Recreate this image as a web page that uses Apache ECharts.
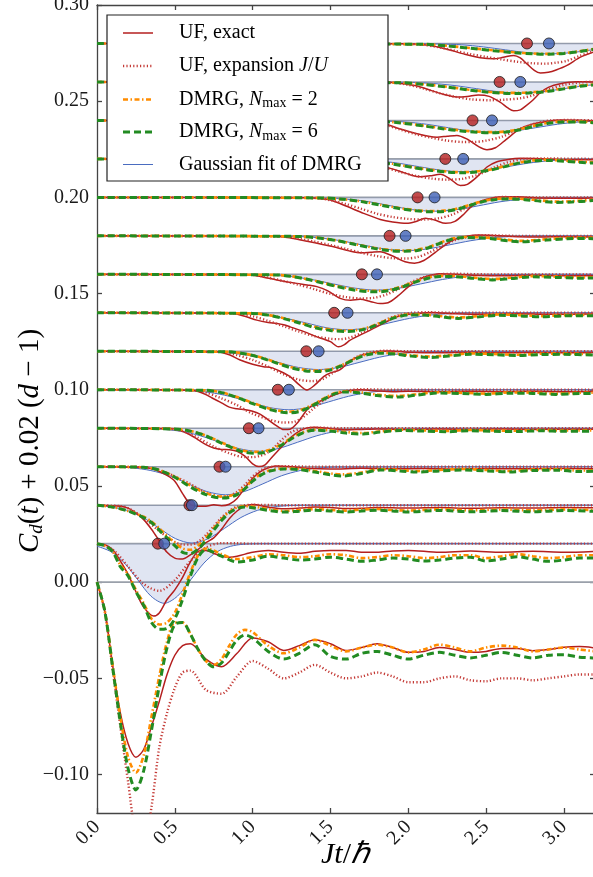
<!DOCTYPE html>
<html><head><meta charset="utf-8">
<script src="https://cdn.jsdelivr.net/npm/echarts@6/dist/echarts.min.js"></script>
<style>html,body{margin:0;padding:0;background:#fff}#c{width:593px;height:877px}</style>
</head><body><div id="c"></div>
<script>
// vertical offsets 0.02(d-1), d = 1..15
const levelOffsets = [0,0.02,0.04,0.06,0.08,0.10,0.12,0.14,0.16,0.18,0.20,0.22,0.24,0.26,0.28];
// marker times for d = 2..15
const exactMarkerT = [0.391,0.594,0.787,0.976,1.162,1.345,1.524,1.702,1.880,2.060,2.238,2.413,2.587,2.763];
const gaussMarkerT = [0.432,0.61,0.826,1.038,1.233,1.424,1.610,1.799,1.983,2.169,2.353,2.538,2.720,2.904];
const yTicks = [-0.10,-0.05,0,0.05,0.10,0.15,0.20,0.25,0.30];
const xTicks = [0,0.5,1,1.5,2,2.5,3];

// C_d(t) as [t, C] pairs, one list per d = 1..15
const ufExact = [
 [[0,0],[0.05,-0.015],[0.1,-0.043],[0.15,-0.068],[0.2,-0.084],[0.25,-0.091],[0.3,-0.087],[0.35,-0.075],[0.4,-0.062],[0.45,-0.048],[0.5,-0.038],[0.55,-0.033],[0.6,-0.032],[0.7,-0.040],[0.8,-0.044],[0.9,-0.037],[1.0,-0.029],[1.1,-0.031],[1.2,-0.0355],[1.3,-0.033],[1.4,-0.030],[1.5,-0.032],[1.6,-0.0355],[1.7,-0.034],[1.8,-0.032],[1.9,-0.034],[2.0,-0.0365],[2.1,-0.036],[2.2,-0.034],[2.3,-0.035],[2.4,-0.0365],[2.5,-0.036],[2.6,-0.0345],[2.7,-0.0345],[2.8,-0.0356],[2.9,-0.035],[3.0,-0.0338],[3.1,-0.0335],[3.2,-0.0342]],
 [[0,0],[0.05,-0.0005],[0.1,-0.003],[0.15,-0.009],[0.2,-0.016],[0.25,-0.025],[0.3,-0.033],[0.363,-0.0376],[0.4,-0.036],[0.45,-0.029],[0.5,-0.024],[0.55,-0.0175],[0.6,-0.0095],[0.65,-0.004],[0.7,-0.0035],[0.75,-0.005],[0.8,-0.0065],[0.85,-0.007],[0.9,-0.0065],[1.0,-0.0045],[1.1,-0.0035],[1.2,-0.0045],[1.3,-0.005],[1.4,-0.004],[1.5,-0.0035],[1.6,-0.0035],[1.7,-0.0045],[1.8,-0.0045],[1.9,-0.0038],[2.0,-0.0035],[2.2,-0.0045],[2.4,-0.0038],[2.6,-0.0045],[2.8,-0.004],[3.0,-0.0045],[3.2,-0.004]],
 [[0,0],[0.15,-0.0005],[0.2,-0.0015],[0.25,-0.004],[0.3,-0.0075],[0.35,-0.0125],[0.4,-0.0185],[0.45,-0.0245],[0.5,-0.0275],[0.55,-0.028],[0.6,-0.0258],[0.65,-0.023],[0.7,-0.0195],[0.75,-0.017],[0.8,-0.0125],[0.85,-0.007],[0.9,-0.003],[0.95,-0.0005],[1.0,0.0003],[1.1,-0.001],[1.2,-0.0018],[1.3,-0.0015],[1.4,-0.001],[1.5,-0.0012],[1.6,-0.0017],[1.7,-0.0016],[1.8,-0.0012],[2.0,-0.0015],[2.2,-0.0012],[2.4,-0.0016],[2.6,-0.0013],[2.8,-0.0015],[3.0,-0.0012],[3.2,-0.0014]],
 [[0,0],[0.3,-0.0003],[0.35,-0.001],[0.4,-0.0025],[0.45,-0.0045],[0.5,-0.0075],[0.55,-0.014],[0.6,-0.0195],[0.65,-0.0205],[0.7,-0.0205],[0.75,-0.0198],[0.8,-0.0203],[0.85,-0.0195],[0.9,-0.0165],[0.95,-0.011],[1.0,-0.006],[1.05,-0.0025],[1.1,-0.0005],[1.15,0.0004],[1.25,0],[1.35,-0.0008],[1.5,-0.0012],[1.7,-0.0008],[1.9,-0.0011],[2.1,-0.0009],[2.3,-0.0012],[2.5,-0.0009],[2.7,-0.0011],[2.9,-0.0009],[3.2,-0.001]],
 [[0,0],[0.45,-0.0002],[0.52,-0.0008],[0.6,-0.0035],[0.65,-0.006],[0.7,-0.0085],[0.75,-0.0103],[0.8,-0.011],[0.85,-0.0112],[0.9,-0.012],[0.95,-0.0145],[1.0,-0.0185],[1.04,-0.0199],[1.08,-0.019],[1.12,-0.0155],[1.19,-0.0094],[1.25,-0.0045],[1.3,-0.0015],[1.35,0.0002],[1.4,0.0005],[1.5,-0.0002],[1.6,-0.0008],[1.7,-0.0006],[1.8,-0.0004],[2.0,-0.0006],[2.2,-0.0004],[2.4,-0.0006],[2.6,-0.0004],[2.8,-0.0006],[3.0,-0.0005],[3.2,-0.0005]],
 [[0,0],[0.6,-0.0002],[0.65,-0.0009],[0.7,-0.0025],[0.74,-0.0043],[0.8,-0.0068],[0.85,-0.009],[0.9,-0.0099],[0.95,-0.0104],[1.0,-0.0112],[1.05,-0.0128],[1.1,-0.0156],[1.15,-0.0185],[1.2,-0.0207],[1.24,-0.0205],[1.29,-0.017],[1.35,-0.0104],[1.4,-0.0072],[1.456,-0.0052],[1.5,-0.0035],[1.56,-0.0017],[1.62,-0.0005],[1.7,0],[1.8,-0.0006],[1.9,-0.001],[2.0,-0.0008],[2.2,-0.001],[2.4,-0.0008],[2.6,-0.001],[2.8,-0.0008],[3.0,-0.001],[3.2,-0.0009]],
 [[0,0],[0.77,-0.0002],[0.85,-0.0018],[0.92,-0.0045],[1.0,-0.0067],[1.07,-0.008],[1.12,-0.0085],[1.18,-0.0105],[1.241,-0.0132],[1.3,-0.0175],[1.349,-0.0201],[1.4,-0.0175],[1.456,-0.0132],[1.5,-0.0112],[1.56,-0.0097],[1.627,-0.005],[1.7,-0.002],[1.756,-0.001],[1.82,0],[1.884,0.0002],[2.0,-0.0005],[2.2,-0.0008],[2.4,-0.0005],[2.6,-0.0008],[2.8,-0.0006],[3.0,-0.0008],[3.2,-0.0006]],
 [[0,0],[0.86,-0.0002],[0.95,-0.0018],[1.027,-0.0038],[1.1,-0.005],[1.156,-0.0055],[1.2,-0.0062],[1.241,-0.0073],[1.33,-0.0098],[1.413,-0.0125],[1.45,-0.0135],[1.5,-0.015],[1.552,-0.0177],[1.59,-0.0165],[1.627,-0.0142],[1.713,-0.0107],[1.78,-0.008],[1.84,-0.0055],[1.927,-0.0021],[2.0,-0.0008],[2.056,-0.0003],[2.15,0.0002],[2.3,-0.0005],[2.5,-0.0008],[2.7,-0.0005],[2.9,-0.0008],[3.2,-0.0006]],
 [[0,0],[0.985,-0.0002],[1.07,-0.0015],[1.156,-0.0029],[1.284,-0.0047],[1.35,-0.0055],[1.413,-0.0064],[1.48,-0.0085],[1.563,-0.0125],[1.63,-0.0135],[1.69,-0.013],[1.76,-0.0142],[1.82,-0.0152],[1.87,-0.0148],[1.93,-0.0115],[2.0,-0.0065],[2.06,-0.003],[2.12,-0.001],[2.2,0.0003],[2.3,0.0001],[2.45,-0.0006],[2.6,-0.0008],[2.8,-0.0005],[3.0,-0.0008],[3.2,-0.0006]],
 [[0,0],[1.15,-0.0002],[1.25,-0.0012],[1.35,-0.0028],[1.45,-0.0045],[1.55,-0.0063],[1.62,-0.0078],[1.7,-0.0088],[1.76,-0.0085],[1.82,-0.0082],[1.9,-0.0105],[1.98,-0.0135],[2.04,-0.0142],[2.1,-0.0128],[2.17,-0.0088],[2.24,-0.0045],[2.3,-0.0018],[2.37,-0.0003],[2.45,0.0004],[2.55,0.0002],[2.7,-0.0004],[2.85,-0.0006],[3.0,-0.0004],[3.2,-0.0006]],
 [[0,0],[1.35,-0.0002],[1.45,-0.0008],[1.5,-0.0014],[1.6,-0.0045],[1.713,-0.0083],[1.82,-0.0115],[1.9,-0.0128],[1.99,-0.0135],[2.05,-0.0125],[2.11,-0.0108],[2.17,-0.0118],[2.24,-0.0135],[2.3,-0.0125],[2.36,-0.0085],[2.4,-0.0052],[2.45,-0.0025],[2.505,-0.001],[2.58,0.0002],[2.7,0.0003],[2.85,-0.0003],[3.0,-0.0005],[3.2,-0.0003]],
 [[0,0],[1.5,-0.0002],[1.6,-0.0008],[1.7,-0.0018],[1.82,-0.0035],[1.95,-0.0065],[2.02,-0.0085],[2.077,-0.0093],[2.14,-0.0088],[2.206,-0.008],[2.27,-0.0105],[2.334,-0.0138],[2.38,-0.0132],[2.44,-0.0095],[2.506,-0.0042],[2.57,-0.0015],[2.634,-0.0004],[2.72,0.0003],[2.85,0.0001],[3.0,-0.0004],[3.2,-0.0005]],
 [[0,0],[1.7,-0.0002],[1.8,-0.0008],[1.86,-0.002],[1.95,-0.0045],[2.05,-0.0068],[2.13,-0.0082],[2.185,-0.0087],[2.25,-0.0082],[2.313,-0.0078],[2.38,-0.0098],[2.45,-0.0135],[2.506,-0.0152],[2.56,-0.0142],[2.63,-0.0098],[2.72,-0.0043],[2.8,-0.0018],[2.89,-0.0005],[2.98,0.0002],[3.1,0.0001],[3.2,-0.0002]],
 [[0,0],[1.85,-0.0002],[1.95,-0.0008],[2.05,-0.002],[2.15,-0.0045],[2.23,-0.0065],[2.31,-0.0078],[2.38,-0.0075],[2.45,-0.0068],[2.52,-0.0075],[2.59,-0.0105],[2.64,-0.0135],[2.677,-0.015],[2.72,-0.0145],[2.75,-0.0128],[2.8,-0.0095],[2.85,-0.0055],[2.9,-0.0028],[2.977,-0.0009],[3.08,0.0001],[3.2,0]],
 [[0,0],[2.0,-0.0002],[2.14,-0.001],[2.25,-0.003],[2.356,-0.0054],[2.463,-0.0074],[2.549,-0.008],[2.61,-0.0072],[2.677,-0.0062],[2.72,-0.0075],[2.763,-0.0106],[2.81,-0.014],[2.849,-0.0154],[2.9,-0.015],[2.95,-0.0138],[3.02,-0.0114],[3.106,-0.0071],[3.2,-0.0042]]
];
const ufExpansion = [
 [[0,0],[0.05,-0.015],[0.1,-0.045],[0.15,-0.075],[0.2,-0.104],[0.25,-0.131],[0.3,-0.137],[0.35,-0.117],[0.4,-0.086],[0.45,-0.068],[0.5,-0.055],[0.55,-0.047],[0.6,-0.046],[0.7,-0.056],[0.8,-0.058],[0.9,-0.049],[1.0,-0.041],[1.1,-0.045],[1.2,-0.050],[1.3,-0.047],[1.4,-0.043],[1.5,-0.047],[1.6,-0.050],[1.7,-0.049],[1.8,-0.047],[1.9,-0.049],[2.0,-0.052],[2.1,-0.052],[2.2,-0.050],[2.3,-0.049],[2.4,-0.051],[2.5,-0.0515],[2.6,-0.050],[2.7,-0.050],[2.8,-0.051],[2.9,-0.050],[3.0,-0.049],[3.1,-0.048],[3.2,-0.048]],
 [[0,0],[0.1,-0.003],[0.2,-0.012],[0.3,-0.021],[0.4,-0.0245],[0.5,-0.019],[0.6,-0.009],[0.7,-0.002],[0.8,0.0003],[0.9,0.0002],[1.0,0],[3.2,0]],
 [[0,0],[0.15,-0.0005],[0.2,-0.0015],[0.3,-0.0065],[0.4,-0.0135],[0.5,-0.019],[0.55,-0.0205],[0.6,-0.0205],[0.65,-0.019],[0.7,-0.0155],[0.75,-0.011],[0.8,-0.0065],[0.85,-0.003],[0.9,-0.0008],[1.0,0.0002],[1.2,0],[3.2,0]],
 [[0,0],[0.3,-0.0003],[0.4,-0.002],[0.5,-0.005],[0.6,-0.009],[0.7,-0.0135],[0.8,-0.0155],[0.85,-0.0153],[0.9,-0.013],[0.95,-0.0095],[1.0,-0.005],[1.05,-0.002],[1.1,-0.0003],[1.2,0.0003],[1.4,0],[3.2,0]],
 [[0,0],[0.45,-0.0002],[0.55,-0.0015],[0.65,-0.005],[0.75,-0.0095],[0.85,-0.013],[0.95,-0.015],[1.0,-0.015],[1.05,-0.0143],[1.1,-0.0125],[1.15,-0.009],[1.2,-0.005],[1.25,-0.002],[1.3,-0.0005],[1.4,0.0003],[1.6,0],[3.2,0]],
 [[0,0],[0.6,-0.0002],[0.7,-0.0015],[0.8,-0.0045],[0.9,-0.008],[0.99,-0.0121],[1.11,-0.0156],[1.2,-0.017],[1.26,-0.0168],[1.32,-0.0145],[1.38,-0.0105],[1.45,-0.006],[1.52,-0.0025],[1.6,-0.0005],[1.7,0.0003],[1.9,0],[3.2,0]],
 [[0,0],[0.8,-0.0003],[0.9,-0.002],[1.0,-0.0045],[1.1,-0.008],[1.2,-0.012],[1.3,-0.0148],[1.38,-0.0155],[1.45,-0.0145],[1.52,-0.011],[1.6,-0.0065],[1.68,-0.0025],[1.76,-0.0005],[1.85,0.0003],[2.0,0],[3.2,0]],
 [[0,0],[0.9,-0.0003],[1.0,-0.0018],[1.1,-0.0042],[1.2,-0.007],[1.3,-0.0098],[1.4,-0.0122],[1.5,-0.0135],[1.56,-0.0137],[1.62,-0.013],[1.7,-0.0105],[1.78,-0.007],[1.86,-0.0035],[1.94,-0.0012],[2.02,0],[2.12,0.0003],[2.3,0],[3.2,0]],
 [[0,0],[1.0,-0.0003],[1.1,-0.0017],[1.2,-0.0035],[1.3,-0.0055],[1.4,-0.0078],[1.5,-0.0102],[1.6,-0.0118],[1.7,-0.0125],[1.78,-0.0122],[1.86,-0.0105],[1.94,-0.0075],[2.02,-0.004],[2.1,-0.0015],[2.2,0],[2.3,0.0003],[2.5,0],[3.2,0]],
 [[0,0],[1.2,-0.0003],[1.3,-0.0015],[1.4,-0.003],[1.5,-0.0048],[1.6,-0.0068],[1.7,-0.0088],[1.8,-0.0105],[1.9,-0.0116],[1.98,-0.0118],[2.06,-0.011],[2.14,-0.0085],[2.22,-0.0052],[2.3,-0.0022],[2.38,-0.0006],[2.48,0.0003],[2.7,0],[3.2,0]],
 [[0,0],[1.4,-0.0003],[1.5,-0.0015],[1.6,-0.0035],[1.7,-0.006],[1.8,-0.0085],[1.9,-0.0102],[2.0,-0.0112],[2.1,-0.0115],[2.2,-0.0108],[2.28,-0.009],[2.36,-0.006],[2.44,-0.003],[2.52,-0.001],[2.6,0.0002],[2.75,0],[3.2,0]],
 [[0,0],[1.55,-0.0003],[1.7,-0.0018],[1.85,-0.0045],[1.95,-0.0068],[2.05,-0.0088],[2.15,-0.0102],[2.25,-0.0108],[2.35,-0.0103],[2.45,-0.0082],[2.55,-0.0045],[2.65,-0.0015],[2.75,0],[2.9,0.0002],[3.2,0]],
 [[0,0],[1.75,-0.0004],[1.86,-0.0025],[1.95,-0.0048],[2.05,-0.0072],[2.15,-0.009],[2.25,-0.0105],[2.35,-0.0112],[2.42,-0.0112],[2.5,-0.0105],[2.6,-0.0085],[2.72,-0.0043],[2.82,-0.0015],[2.92,0],[3.05,0.0002],[3.2,0]],
 [[0,0],[1.9,-0.0004],[2.0,-0.0015],[2.1,-0.0035],[2.2,-0.0058],[2.3,-0.0077],[2.4,-0.009],[2.527,-0.0095],[2.62,-0.0092],[2.72,-0.0085],[2.8,-0.007],[2.9,-0.004],[3.0,-0.0015],[3.1,-0.0003],[3.2,0.0002]],
 [[0,0],[2.05,-0.0004],[2.2,-0.002],[2.3,-0.0038],[2.4,-0.0055],[2.5,-0.007],[2.6,-0.0083],[2.7,-0.0095],[2.8,-0.0103],[2.88,-0.0105],[2.95,-0.01],[3.02,-0.009],[3.1,-0.0065],[3.2,-0.0038]]
];
const dmrgN2 = [
 [[0,0],[0.05,-0.015],[0.1,-0.043],[0.15,-0.070],[0.2,-0.091],[0.25,-0.099],[0.3,-0.090],[0.35,-0.070],[0.4,-0.049],[0.45,-0.031],[0.5,-0.021],[0.55,-0.021],[0.6,-0.027],[0.65,-0.035],[0.7,-0.041],[0.75,-0.043],[0.8,-0.040],[0.85,-0.033],[0.9,-0.027],[0.95,-0.0248],[1.0,-0.026],[1.1,-0.033],[1.2,-0.037],[1.3,-0.034],[1.4,-0.030],[1.5,-0.033],[1.6,-0.036],[1.7,-0.034],[1.8,-0.0325],[1.9,-0.034],[2.0,-0.0365],[2.1,-0.035],[2.2,-0.0325],[2.3,-0.034],[2.4,-0.036],[2.5,-0.034],[2.6,-0.033],[2.7,-0.034],[2.8,-0.036],[2.9,-0.035],[3.0,-0.034],[3.1,-0.035],[3.2,-0.036]],
 [[0,0],[0.05,-0.001],[0.1,-0.004],[0.15,-0.011],[0.2,-0.016],[0.25,-0.024],[0.3,-0.031],[0.35,-0.039],[0.4,-0.042],[0.45,-0.041],[0.5,-0.036],[0.55,-0.026],[0.6,-0.015],[0.65,-0.006],[0.7,-0.0025],[0.75,-0.0035],[0.8,-0.0055],[0.9,-0.008],[1.0,-0.007],[1.1,-0.0055],[1.2,-0.006],[1.3,-0.007],[1.4,-0.0065],[1.5,-0.0055],[1.6,-0.006],[1.7,-0.0075],[1.8,-0.007],[1.9,-0.006],[2.0,-0.0065],[2.1,-0.0075],[2.2,-0.007],[2.3,-0.006],[2.4,-0.006],[2.5,-0.0075],[2.6,-0.0065],[2.7,-0.0055],[2.8,-0.0065],[2.9,-0.0075],[3.0,-0.007],[3.1,-0.006],[3.2,-0.006]],
 [[0,0],[0.1,-0.001],[0.2,-0.003],[0.3,-0.006],[0.35,-0.0085],[0.4,-0.012],[0.45,-0.016],[0.5,-0.0195],[0.55,-0.0225],[0.6,-0.0232],[0.65,-0.021],[0.7,-0.0168],[0.75,-0.012],[0.8,-0.0072],[0.85,-0.0035],[0.9,-0.0012],[0.95,-0.0005],[1.0,-0.0007],[1.1,-0.002],[1.2,-0.003],[1.3,-0.0025],[1.4,-0.002],[1.5,-0.0025],[1.6,-0.0028],[1.7,-0.0023],[1.8,-0.002],[1.9,-0.0025],[2.0,-0.0028],[2.2,-0.0021],[2.4,-0.0027],[2.6,-0.0022],[2.8,-0.0027],[3.0,-0.0022],[3.2,-0.0025]],
 [[0,0],[0.3,-0.0003],[0.4,-0.0017],[0.5,-0.0052],[0.6,-0.0098],[0.7,-0.0137],[0.8,-0.0155],[0.85,-0.0152],[0.9,-0.0137],[0.95,-0.0108],[1.0,-0.007],[1.05,-0.004],[1.1,-0.0021],[1.2,-0.0009],[1.3,-0.0011],[1.4,-0.0022],[1.5,-0.0035],[1.58,-0.004],[1.7,-0.003],[1.82,-0.0013],[1.95,-0.0017],[2.05,-0.0023],[2.2,-0.0017],[2.35,-0.0012],[2.5,-0.0017],[2.65,-0.0022],[2.8,-0.0015],[2.95,-0.0013],[3.1,-0.002],[3.2,-0.0019]],
 [[0,0],[0.5,-0.0004],[0.6,-0.0014],[0.7,-0.0038],[0.8,-0.0074],[0.9,-0.0107],[0.95,-0.0118],[1.02,-0.0123],[1.1,-0.0115],[1.17,-0.0089],[1.25,-0.005],[1.32,-0.0021],[1.4,-0.0007],[1.5,-0.0011],[1.6,-0.002],[1.71,-0.0025],[1.82,-0.0016],[1.95,-0.0008],[2.1,-0.0011],[2.25,-0.0014],[2.4,-0.0009],[2.55,-0.0012],[2.7,-0.0013],[2.85,-0.0009],[3.0,-0.0012],[3.2,-0.0011]],
 [[0,0],[0.7,-0.0003],[0.8,-0.0014],[0.9,-0.0038],[1.0,-0.0068],[1.1,-0.0096],[1.18,-0.011],[1.23,-0.0114],[1.3,-0.0107],[1.38,-0.008],[1.46,-0.0044],[1.53,-0.0017],[1.6,-0.0008],[1.7,-0.0014],[1.8,-0.0025],[1.93,-0.0032],[2.05,-0.0023],[2.2,-0.0013],[2.35,-0.0016],[2.5,-0.002],[2.65,-0.0014],[2.8,-0.0015],[2.95,-0.002],[3.1,-0.0016],[3.2,-0.0015]],
 [[0,0],[0.85,-0.0003],[0.95,-0.0012],[1.05,-0.0031],[1.15,-0.0057],[1.25,-0.0083],[1.34,-0.0097],[1.42,-0.01],[1.5,-0.0093],[1.58,-0.0068],[1.66,-0.0037],[1.74,-0.0014],[1.82,-0.0007],[1.92,-0.0012],[2.02,-0.0021],[2.14,-0.0027],[2.26,-0.0021],[2.4,-0.0011],[2.55,-0.0014],[2.7,-0.0018],[2.85,-0.0013],[3.0,-0.0012],[3.2,-0.0016]],
 [[0,0],[1.0,-0.0003],[1.1,-0.0011],[1.2,-0.0028],[1.3,-0.005],[1.4,-0.0073],[1.5,-0.0087],[1.6,-0.0092],[1.68,-0.0088],[1.76,-0.0071],[1.84,-0.0045],[1.92,-0.0021],[2.0,-0.0008],[2.1,-0.0009],[2.2,-0.0016],[2.32,-0.0024],[2.44,-0.0018],[2.58,-0.0009],[2.72,-0.0012],[2.86,-0.0017],[3.0,-0.0012],[3.2,-0.0011]],
 [[0,0],[1.15,-0.0003],[1.25,-0.001],[1.35,-0.0025],[1.45,-0.0043],[1.55,-0.0062],[1.65,-0.0077],[1.74,-0.0085],[1.8,-0.0086],[1.88,-0.008],[1.96,-0.0062],[2.04,-0.0039],[2.12,-0.0019],[2.2,-0.0008],[2.3,-0.0009],[2.42,-0.0017],[2.54,-0.0024],[2.66,-0.0018],[2.8,-0.0009],[2.95,-0.0012],[3.1,-0.0016],[3.2,-0.0015]],
 [[0,0],[1.3,-0.0003],[1.42,-0.001],[1.54,-0.0024],[1.66,-0.0043],[1.78,-0.0062],[1.88,-0.0073],[1.97,-0.0076],[2.05,-0.0073],[2.13,-0.0058],[2.21,-0.0034],[2.28,-0.0015],[2.36,-0.0006],[2.45,-0.0007],[2.55,-0.0012],[2.64,-0.0021],[2.72,-0.0026],[2.8,-0.0023],[2.89,-0.0017],[3.02,-0.0011],[3.16,-0.001],[3.2,-0.0011]],
 [[0,0],[1.45,-0.0003],[1.58,-0.001],[1.7,-0.0021],[1.82,-0.0038],[1.94,-0.0055],[2.05,-0.0067],[2.15,-0.0071],[2.23,-0.0069],[2.31,-0.0059],[2.39,-0.004],[2.47,-0.0021],[2.55,-0.0009],[2.65,-0.0005],[2.75,-0.0009],[2.85,-0.0016],[2.95,-0.0022],[3.05,-0.002],[3.2,-0.0012]],
 [[0,0],[1.6,-0.0003],[1.75,-0.001],[1.9,-0.0025],[2.03,-0.0043],[2.15,-0.0057],[2.26,-0.0066],[2.35,-0.0069],[2.44,-0.0065],[2.53,-0.0055],[2.62,-0.0037],[2.71,-0.0019],[2.8,-0.0008],[2.9,-0.0005],[3.0,-0.0009],[3.1,-0.0014],[3.2,-0.0018]],
 [[0,0],[1.8,-0.0004],[1.95,-0.0012],[2.1,-0.0027],[2.22,-0.0041],[2.34,-0.0052],[2.45,-0.0059],[2.54,-0.0061],[2.63,-0.0057],[2.72,-0.0045],[2.81,-0.0027],[2.9,-0.0012],[3.0,-0.0005],[3.1,-0.0005],[3.2,-0.001]],
 [[0,0],[1.95,-0.0004],[2.1,-0.0012],[2.25,-0.0025],[2.38,-0.0039],[2.5,-0.005],[2.6,-0.0055],[2.7,-0.0057],[2.8,-0.0053],[2.9,-0.0046],[3.0,-0.0033],[3.1,-0.002],[3.2,-0.0012]],
 [[0,0],[2.1,-0.0004],[2.25,-0.0012],[2.4,-0.0024],[2.55,-0.0036],[2.68,-0.0046],[2.8,-0.0052],[2.9,-0.0054],[3.0,-0.005],[3.1,-0.004],[3.2,-0.0028]]
];
const dmrgN6 = [
 [[0,0],[0.05,-0.015],[0.1,-0.044],[0.15,-0.073],[0.2,-0.097],[0.25,-0.108],[0.3,-0.098],[0.35,-0.077],[0.4,-0.054],[0.45,-0.034],[0.5,-0.022],[0.55,-0.021],[0.6,-0.027],[0.65,-0.035],[0.7,-0.041],[0.75,-0.044],[0.8,-0.042],[0.85,-0.036],[0.9,-0.030],[0.95,-0.0275],[1.0,-0.029],[1.1,-0.036],[1.2,-0.040],[1.3,-0.037],[1.4,-0.0325],[1.5,-0.0386],[1.6,-0.040],[1.7,-0.037],[1.8,-0.036],[1.9,-0.038],[2.0,-0.040],[2.1,-0.038],[2.2,-0.0365],[2.3,-0.038],[2.4,-0.0394],[2.5,-0.038],[2.6,-0.0365],[2.7,-0.038],[2.8,-0.0394],[2.9,-0.038],[3.0,-0.0377],[3.1,-0.039],[3.2,-0.0394]],
 [[0,0],[0.05,-0.001],[0.1,-0.004],[0.15,-0.012],[0.2,-0.0168],[0.25,-0.025],[0.3,-0.032],[0.35,-0.041],[0.4,-0.0445],[0.45,-0.044],[0.5,-0.039],[0.55,-0.029],[0.6,-0.0168],[0.65,-0.007],[0.7,-0.003],[0.75,-0.0045],[0.8,-0.0065],[0.9,-0.0095],[1.0,-0.0085],[1.1,-0.0065],[1.2,-0.0075],[1.3,-0.0085],[1.4,-0.008],[1.5,-0.007],[1.6,-0.008],[1.7,-0.0092],[1.8,-0.0085],[1.9,-0.0075],[2.0,-0.008],[2.1,-0.009],[2.2,-0.0085],[2.3,-0.0075],[2.4,-0.007],[2.5,-0.009],[2.6,-0.008],[2.7,-0.0068],[2.8,-0.008],[2.9,-0.0092],[3.0,-0.0085],[3.1,-0.0075],[3.2,-0.0075]],
 [[0,0],[0.1,-0.001],[0.2,-0.003],[0.3,-0.0065],[0.35,-0.009],[0.4,-0.013],[0.45,-0.017],[0.5,-0.021],[0.55,-0.0245],[0.6,-0.0252],[0.65,-0.0228],[0.7,-0.0182],[0.75,-0.013],[0.8,-0.008],[0.85,-0.004],[0.9,-0.0017],[0.95,-0.001],[1.0,-0.0013],[1.1,-0.0027],[1.2,-0.0036],[1.3,-0.0031],[1.4,-0.0026],[1.5,-0.003],[1.6,-0.0035],[1.7,-0.003],[1.8,-0.0026],[1.9,-0.003],[2.0,-0.0035],[2.2,-0.0027],[2.4,-0.0034],[2.6,-0.0028],[2.8,-0.0034],[3.0,-0.0028],[3.2,-0.0032]],
 [[0,0],[0.3,-0.0003],[0.4,-0.0018],[0.5,-0.0055],[0.6,-0.0105],[0.7,-0.0145],[0.8,-0.0163],[0.85,-0.016],[0.9,-0.0145],[0.95,-0.0115],[1.0,-0.0075],[1.05,-0.0045],[1.1,-0.0025],[1.2,-0.0012],[1.3,-0.0015],[1.4,-0.0028],[1.5,-0.0042],[1.58,-0.0048],[1.7,-0.0035],[1.82,-0.0017],[1.95,-0.0022],[2.05,-0.0028],[2.2,-0.0022],[2.35,-0.0017],[2.5,-0.0022],[2.65,-0.0027],[2.8,-0.002],[2.95,-0.0018],[3.1,-0.0025],[3.2,-0.0024]],
 [[0,0],[0.5,-0.0004],[0.6,-0.0015],[0.7,-0.004],[0.8,-0.0078],[0.9,-0.0113],[0.95,-0.0125],[1.02,-0.013],[1.1,-0.0122],[1.17,-0.0095],[1.25,-0.0055],[1.32,-0.0025],[1.4,-0.001],[1.5,-0.0015],[1.6,-0.0025],[1.71,-0.003],[1.82,-0.002],[1.95,-0.0012],[2.1,-0.0015],[2.25,-0.0018],[2.4,-0.0013],[2.55,-0.0016],[2.7,-0.0017],[2.85,-0.0013],[3.0,-0.0016],[3.2,-0.0015]],
 [[0,0],[0.7,-0.0003],[0.8,-0.0015],[0.9,-0.004],[1.0,-0.0072],[1.1,-0.0101],[1.18,-0.0116],[1.23,-0.012],[1.3,-0.0113],[1.38,-0.0085],[1.46,-0.0048],[1.53,-0.002],[1.6,-0.0011],[1.7,-0.0018],[1.8,-0.003],[1.93,-0.0038],[2.05,-0.0028],[2.2,-0.0017],[2.35,-0.002],[2.5,-0.0024],[2.65,-0.0018],[2.8,-0.0019],[2.95,-0.0024],[3.1,-0.002],[3.2,-0.0019]],
 [[0,0],[0.85,-0.0003],[0.95,-0.0013],[1.05,-0.0033],[1.15,-0.006],[1.25,-0.0087],[1.34,-0.0102],[1.42,-0.0105],[1.5,-0.0098],[1.58,-0.0072],[1.66,-0.004],[1.74,-0.0017],[1.82,-0.001],[1.92,-0.0015],[2.02,-0.0025],[2.14,-0.0032],[2.26,-0.0025],[2.4,-0.0015],[2.55,-0.0018],[2.7,-0.0022],[2.85,-0.0017],[3.0,-0.0016],[3.2,-0.002]],
 [[0,0],[1.0,-0.0003],[1.1,-0.0012],[1.2,-0.003],[1.3,-0.0053],[1.4,-0.0077],[1.5,-0.0092],[1.6,-0.0097],[1.68,-0.0093],[1.76,-0.0075],[1.84,-0.0048],[1.92,-0.0024],[2.0,-0.0011],[2.1,-0.0012],[2.2,-0.002],[2.32,-0.0029],[2.44,-0.0022],[2.58,-0.0013],[2.72,-0.0016],[2.86,-0.0021],[3.0,-0.0016],[3.2,-0.0015]],
 [[0,0],[1.15,-0.0003],[1.25,-0.0011],[1.35,-0.0026],[1.45,-0.0045],[1.55,-0.0065],[1.65,-0.0081],[1.74,-0.009],[1.8,-0.0091],[1.88,-0.0084],[1.96,-0.0066],[2.04,-0.0042],[2.12,-0.0022],[2.2,-0.0011],[2.3,-0.0012],[2.42,-0.0021],[2.54,-0.0029],[2.66,-0.0022],[2.8,-0.0013],[2.95,-0.0016],[3.1,-0.002],[3.2,-0.0019]],
 [[0,0],[1.3,-0.0003],[1.42,-0.0011],[1.54,-0.0025],[1.66,-0.0045],[1.78,-0.0065],[1.88,-0.0077],[1.97,-0.008],[2.05,-0.0077],[2.13,-0.0062],[2.21,-0.0037],[2.28,-0.0018],[2.36,-0.0009],[2.45,-0.001],[2.55,-0.0016],[2.64,-0.0026],[2.72,-0.0031],[2.8,-0.0028],[2.89,-0.0022],[3.02,-0.0015],[3.16,-0.0014],[3.2,-0.0015]],
 [[0,0],[1.45,-0.0003],[1.58,-0.001],[1.7,-0.0022],[1.82,-0.004],[1.94,-0.0058],[2.05,-0.007],[2.15,-0.0075],[2.23,-0.0073],[2.31,-0.0063],[2.39,-0.0043],[2.47,-0.0024],[2.55,-0.0012],[2.65,-0.0008],[2.75,-0.0012],[2.85,-0.002],[2.95,-0.0026],[3.05,-0.0024],[3.2,-0.0016]],
 [[0,0],[1.6,-0.0003],[1.75,-0.0011],[1.9,-0.0027],[2.03,-0.0045],[2.15,-0.006],[2.26,-0.0069],[2.35,-0.0072],[2.44,-0.0068],[2.53,-0.0058],[2.62,-0.004],[2.71,-0.0022],[2.8,-0.0011],[2.9,-0.0008],[3.0,-0.0012],[3.1,-0.0018],[3.2,-0.0022]],
 [[0,0],[1.8,-0.0004],[1.95,-0.0013],[2.1,-0.0029],[2.22,-0.0043],[2.34,-0.0055],[2.45,-0.0062],[2.54,-0.0064],[2.63,-0.006],[2.72,-0.0048],[2.81,-0.003],[2.9,-0.0015],[3.0,-0.0008],[3.1,-0.0008],[3.2,-0.0013]],
 [[0,0],[1.95,-0.0004],[2.1,-0.0013],[2.25,-0.0027],[2.38,-0.0041],[2.5,-0.0052],[2.6,-0.0058],[2.7,-0.006],[2.8,-0.0056],[2.9,-0.0049],[3.0,-0.0036],[3.1,-0.0023],[3.2,-0.0015]],
 [[0,0],[2.1,-0.0004],[2.25,-0.0013],[2.4,-0.0025],[2.55,-0.0038],[2.68,-0.0048],[2.8,-0.0054],[2.9,-0.0056],[3.0,-0.0052],[3.1,-0.0042],[3.2,-0.003]]
];
const gaussFit = [
 [],
 [[0,-0.0013],[0.09,-0.0042],[0.177,-0.0101],[0.262,-0.0188],[0.347,-0.0273],[0.432,-0.031],[0.517,-0.0273],[0.602,-0.0188],[0.687,-0.0101],[0.772,-0.0042],[0.857,-0.0014],[0.942,-0.0003],[1.1,0],[3.2,0]],
 [[0,-0.0003],[0.085,-0.0009],[0.19,-0.0027],[0.295,-0.0064],[0.40,-0.012],[0.505,-0.0174],[0.61,-0.0197],[0.715,-0.0174],[0.82,-0.012],[0.925,-0.0064],[1.03,-0.0027],[1.135,-0.0009],[1.24,-0.0002],[1.4,0],[3.2,0]],
 [[0,0],[0.106,-0.0002],[0.226,-0.0006],[0.346,-0.002],[0.466,-0.0047],[0.586,-0.0089],[0.706,-0.0129],[0.826,-0.0146],[0.946,-0.0129],[1.066,-0.0089],[1.186,-0.0047],[1.306,-0.002],[1.426,-0.0006],[1.546,-0.0002],[3.2,0]],
 [[0,0],[0.288,-0.0001],[0.413,-0.0005],[0.538,-0.0016],[0.663,-0.0039],[0.788,-0.0073],[0.913,-0.0106],[1.038,-0.012],[1.163,-0.0106],[1.288,-0.0073],[1.413,-0.0039],[1.538,-0.0016],[1.663,-0.0005],[1.788,-0.0001],[3.2,0]],
 [[0,0],[0.468,-0.0001],[0.596,-0.0005],[0.723,-0.0014],[0.851,-0.0034],[0.978,-0.0063],[1.106,-0.0092],[1.233,-0.0104],[1.361,-0.0092],[1.488,-0.0063],[1.616,-0.0034],[1.743,-0.0014],[1.871,-0.0005],[1.998,-0.0001],[3.2,0]],
 [[0,0],[0.644,-0.0001],[0.774,-0.0004],[0.904,-0.0013],[1.034,-0.0031],[1.164,-0.0058],[1.294,-0.0084],[1.424,-0.0095],[1.554,-0.0084],[1.684,-0.0058],[1.814,-0.0031],[1.944,-0.0013],[2.074,-0.0004],[2.204,-0.0001],[3.2,0]],
 [[0,0],[0.815,-0.0001],[0.948,-0.0004],[1.08,-0.0012],[1.213,-0.0029],[1.345,-0.0053],[1.478,-0.0078],[1.61,-0.0088],[1.743,-0.0078],[1.875,-0.0053],[2.008,-0.0029],[2.14,-0.0012],[2.273,-0.0004],[2.405,-0.0001],[3.2,0]],
 [[0,0],[0.959,-0.0001],[1.099,-0.0004],[1.239,-0.0011],[1.379,-0.0027],[1.519,-0.005],[1.659,-0.0072],[1.799,-0.0082],[1.939,-0.0072],[2.079,-0.005],[2.219,-0.0027],[2.359,-0.0011],[2.499,-0.0004],[2.639,-0.0001],[3.2,0]],
 [[0,0],[1.143,-0.0001],[1.283,-0.0003],[1.423,-0.001],[1.563,-0.0025],[1.703,-0.0047],[1.843,-0.0068],[1.983,-0.0077],[2.123,-0.0068],[2.263,-0.0047],[2.403,-0.0025],[2.543,-0.001],[2.683,-0.0003],[2.823,-0.0001],[3.2,0]],
 [[0,0],[1.329,-0.0001],[1.469,-0.0003],[1.609,-0.001],[1.749,-0.0023],[1.889,-0.0044],[2.029,-0.0064],[2.169,-0.0072],[2.309,-0.0064],[2.449,-0.0044],[2.589,-0.0023],[2.729,-0.001],[2.869,-0.0003],[3.009,-0.0001],[3.2,0]],
 [[0,0],[1.513,-0.0001],[1.653,-0.0003],[1.793,-0.0009],[1.933,-0.0022],[2.073,-0.0041],[2.213,-0.0059],[2.353,-0.0067],[2.493,-0.0059],[2.633,-0.0041],[2.773,-0.0022],[2.913,-0.0009],[3.053,-0.0003],[3.2,-0.0001]],
 [[0,0],[1.698,-0.0001],[1.838,-0.0003],[1.978,-0.0008],[2.118,-0.002],[2.258,-0.0038],[2.398,-0.0055],[2.538,-0.0062],[2.678,-0.0055],[2.818,-0.0038],[2.958,-0.002],[3.098,-0.0008],[3.2,-0.0004]],
 [[0,0],[1.88,-0.0001],[2.02,-0.0003],[2.16,-0.0008],[2.30,-0.0019],[2.44,-0.0035],[2.58,-0.0051],[2.72,-0.0058],[2.86,-0.0051],[3.0,-0.0035],[3.14,-0.0019],[3.2,-0.0014]],
 [[0,0],[2.064,-0.0001],[2.204,-0.0003],[2.344,-0.0007],[2.484,-0.0018],[2.624,-0.0033],[2.764,-0.0048],[2.904,-0.0054],[3.044,-0.0048],[3.184,-0.0033],[3.2,-0.0031]]
];

const FONT = 'Liberation Serif';
const C_EXACT = '#b41f1f', C_EXP = '#c43a36', C_N2 = '#ff8c00', C_N6 = '#228b22', C_G = '#4a6cc0';
const STYLE_EXACT = {color: C_EXACT, width: 1.5};
const STYLE_EXP = {color: C_EXP, width: 2.4, type: [1.2, 2.2]};
const STYLE_N2 = {color: C_N2, width: 2.6, type: [5, 2.5, 1.5, 2.5]};
const STYLE_N6 = {color: C_N6, width: 3, type: [7, 4]};
const STYLE_G = {color: C_G, width: 1};

const chart = echarts.init(document.getElementById('c'), null, {renderer: 'canvas'});
function shifted(list, d) { return list.map(p => [p[0], p[1] + levelOffsets[d]]); }

const series = [];
levelOffsets.forEach((off) => {
  series.push({type: 'line', silent: true, symbol: 'none', z: 1, data: [[0, off], [3.2, off]],
    lineStyle: {color: '#9aa0aa', width: 1.6}});
});
gaussFit.forEach((g, d) => {
  if (!g.length) return;
  series.push({type: 'line', symbol: 'none', smooth: 0.3, z: 2, silent: true,
    data: shifted(g, d), lineStyle: STYLE_G,
    areaStyle: {origin: levelOffsets[d], color: 'rgba(80,105,180,0.25)'}});
});
function addCurves(arr, style, z) {
  arr.forEach((c, d) => {
    if (!c || !c.length) return;
    series.push({type: 'line', symbol: 'none', smooth: 0.3, z, silent: true, data: shifted(c, d), lineStyle: style});
  });
}
addCurves(ufExact, STYLE_EXACT, 3);
addCurves(ufExpansion, STYLE_EXP, 4);
addCurves(dmrgN2, STYLE_N2, 5);
addCurves(dmrgN6, STYLE_N6, 6);
series.push({type: 'scatter', z: 10, symbolSize: 11, silent: true,
  data: exactMarkerT.map((t, i) => [t, levelOffsets[i + 1]]),
  itemStyle: {color: '#b51f1f', borderColor: '#1a1a1a', borderWidth: 1}});
series.push({type: 'scatter', z: 10, symbolSize: 11, silent: true,
  data: gaussMarkerT.map((t, i) => [t, levelOffsets[i + 1]]),
  itemStyle: {color: '#3f60b5', borderColor: '#1a1a1a', borderWidth: 1}});

const axisLineStyle = {color: '#444', width: 1.3};
const yFmt = v => (v < 0 ? '\u2212' : '') + Math.abs(v).toFixed(2);

// legend drawn as graphic elements (matplotlib-like box)
const legendRich = {
  n: {fontFamily: FONT, fontSize: 20, color: '#1a1a1a'},
  i: {fontFamily: FONT, fontSize: 20, fontStyle: 'italic', color: '#1a1a1a'},
  s: {fontFamily: FONT, fontSize: 14, color: '#1a1a1a', verticalAlign: 'bottom', lineHeight: 14}
};
const legendItems = [
  ['{n|UF, exact}', STYLE_EXACT],
  ['{n|UF, expansion }{i|J}{n|/}{i|U}', STYLE_EXP],
  ['{n|DMRG, }{i|N}{s|max}{n| = 2}', STYLE_N2],
  ['{n|DMRG, }{i|N}{s|max}{n| = 6}', STYLE_N6],
  ['{n|Gaussian fit of DMRG}', STYLE_G]
];
const legendRowsY = [33, 66, 99.5, 132, 164.5];
const graphic = [{type: 'rect', z: 100, shape: {x: 107, y: 15, width: 281, height: 166},
  style: {fill: '#fff', stroke: '#222', lineWidth: 1.2}}];
legendItems.forEach(([txt, st], k) => {
  const y = legendRowsY[k];
  const dash = Array.isArray(st.type) ? st.type : null;
  graphic.push({type: 'line', z: 101, shape: {x1: 123, y1: y, x2: 153, y2: y},
    style: {stroke: st.color, lineWidth: st.width, lineDash: dash}});
  graphic.push({type: 'text', z: 101, x: 179, y: y,
    style: {text: txt, rich: legendRich, verticalAlign: 'middle', align: 'left', lineHeight: 22}});
});
// axis titles
graphic.push({type: 'text', z: 50, x: 30, y: 441, rotation: Math.PI / 2,
  style: {text: '{i|C}{s|d}{n|(}{i|t}{n|) + 0.02 (}{i|d}{n| \u2212 1)}', align: 'center', verticalAlign: 'middle',
    rich: {
      i: {fontFamily: FONT, fontStyle: 'italic', fontSize: 29, color: '#1a1a1a', lineHeight: 32},
      n: {fontFamily: FONT, fontSize: 29, color: '#1a1a1a', lineHeight: 32},
      s: {fontFamily: FONT, fontStyle: 'italic', fontSize: 19, color: '#1a1a1a', verticalAlign: 'bottom', lineHeight: 19}}}});
graphic.push({type: 'text', z: 50, x: 345, y: 855,
  style: {text: '{i|Jt}{n|/}{i|ℏ}', align: 'center', verticalAlign: 'middle',
    rich: {i: {fontFamily: FONT, fontStyle: 'italic', fontSize: 30, color: '#1a1a1a'},
           n: {fontFamily: FONT, fontSize: 30, color: '#1a1a1a'}}}});

chart.setOption({
  animation: false,
  grid: {left: 97, top: 5, width: 498, height: 808, containLabel: false, outerBoundsMode: 'none'},
  graphic,
  xAxis: [{
    type: 'value', min: 0, max: 3.2,
    axisLine: {onZero: false, lineStyle: axisLineStyle}, splitLine: {show: false},
    axisTick: {inside: true, length: 5, lineStyle: axisLineStyle, customValues: xTicks},
    axisLabel: {rotate: 45, margin: 11, fontFamily: FONT, fontSize: 20, color: '#1a1a1a', formatter: v => v.toFixed(1), customValues: xTicks}
  }, {
    type: 'value', min: 0, max: 3.2, position: 'top',
    axisLine: {onZero: false, lineStyle: axisLineStyle}, splitLine: {show: false},
    axisTick: {inside: true, length: 5, lineStyle: axisLineStyle, customValues: xTicks}, axisLabel: {show: false}
  }],
  yAxis: [{
    type: 'value', min: -0.12, max: 0.30,
    axisLine: {onZero: false, lineStyle: axisLineStyle}, splitLine: {show: false},
    axisTick: {inside: true, length: 5, lineStyle: axisLineStyle, customValues: yTicks},
    axisLabel: {margin: 8, fontFamily: FONT, fontSize: 20, color: '#1a1a1a', formatter: yFmt, customValues: yTicks}
  }, {
    type: 'value', min: -0.12, max: 0.30, position: 'right',
    axisLine: {onZero: false, lineStyle: axisLineStyle}, splitLine: {show: false},
    axisTick: {inside: true, length: 5, lineStyle: axisLineStyle, customValues: yTicks},
    axisLabel: {show: false}
  }],
  series
});
</script></body></html>
